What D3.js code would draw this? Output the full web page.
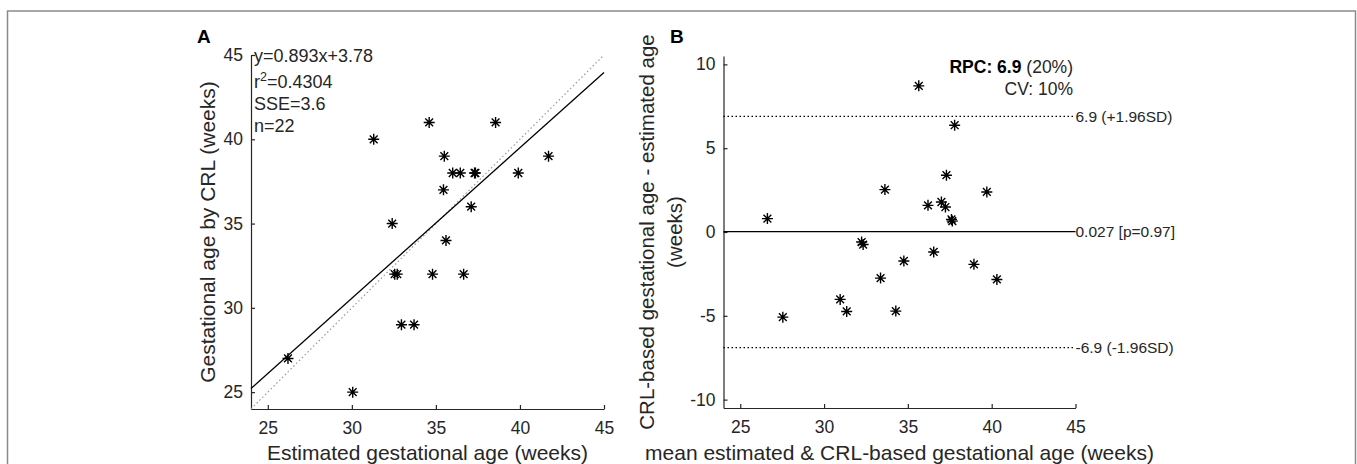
<html>
<head>
<meta charset="utf-8">
<script src="https://d3js.org/d3.v7.min.js"></script>
<style>
body { margin: 0; background: white; }
text { font-family: "Liberation Sans", Arial, sans-serif; fill: #262626; }
.axis path, .axis line { stroke: #262626; stroke-width: 1.2; }
.axis text { font-size: 17.5px; fill: #262626; }
</style>
</head>
<body>
<svg width="1357" height="464"></svg>
<script>
// panel A: estimated vs CRL-based gestational age (weeks)
var estAge = [26.2, 30.05, 31.3, 32.4, 32.55, 32.7, 32.95, 33.7, 34.8, 34.6, 35.6, 35.5, 35.45,
              36.0, 36.45, 37.3, 37.35, 37.1, 36.65, 38.55, 39.9, 41.7];
var crlAge = [27, 25, 40, 35, 32, 32, 29, 29, 32, 41, 34, 39, 37,
              38, 38, 38, 38, 36, 32, 41, 38, 39];
var fitSlope = 0.893, fitIntercept = 3.78;
var fitText = ["y=0.893x+3.78", "=0.4304", "SSE=3.6", "n=22"];

// panel B: Bland-Altman (mean vs difference)
var meanAge = [26.62, 27.54, 30.96, 31.35, 32.24, 32.33, 33.37, 33.63, 35.65, 37.79, 36.2,
               37.3, 37.0, 37.24, 37.6, 37.65, 39.71, 34.76, 36.54, 38.94, 40.31, 34.28];
var diffAge = [0.8, -5.08, -4.02, -4.74, -0.6, -0.75, -2.75, 2.53, 8.72, 6.37, 1.59,
               3.39, 1.79, 1.49, 0.75, 0.65, 2.39, -1.73, -1.19, -1.93, -2.83, -4.72];
var meanDiff = 0.027, upperLoA = 6.9, lowerLoA = -6.9;
var ageTicks = [25, 30, 35, 40, 45];
var diffTicks = [-10, -5, 0, 5, 10];

var svg = d3.select("svg");
var fmt = function(d) { return String(d); };

// figure frame
svg.append("path").attr("d", "M7.5,470V11H1355.5V470")
   .attr("fill", "none").attr("stroke", "#8a8a8a").attr("stroke-width", 1.5);

var star = "M-5.5,0H5.5M0,-5.5V5.5M-3.9,-3.9L3.9,3.9M-3.9,3.9L3.9,-3.9";

// ---------- panel A ----------
var xA = d3.scaleLinear().domain([24, 45]).range([251, 604]);
var yA = d3.scaleLinear().domain([24, 45]).range([409, 55]);

svg.append("g").attr("class", "axis").attr("transform", "translate(0,409)")
   .call(d3.axisBottom(xA).tickValues(ageTicks).tickFormat(fmt).tickSize(-4).tickSizeOuter(0).tickPadding(13));
svg.append("g").attr("class", "axis").attr("transform", "translate(251,0)")
   .call(d3.axisLeft(yA).tickValues(ageTicks).tickFormat(fmt).tickSize(-4).tickSizeOuter(0).tickPadding(8));

// identity line (dotted grey) and fit line
svg.append("line")
   .attr("x1", xA(24)).attr("y1", yA(24)).attr("x2", xA(45)).attr("y2", yA(45))
   .attr("stroke", "#9a9a9a").attr("stroke-width", 1.2).attr("stroke-dasharray", "1.5,2.5");
svg.append("line")
   .attr("x1", xA(24)).attr("y1", yA(fitSlope * 24 + fitIntercept))
   .attr("x2", xA(45)).attr("y2", yA(fitSlope * 45 + fitIntercept))
   .attr("stroke", "black").attr("stroke-width", 1.3);

svg.append("g").selectAll("path").data(estAge).enter().append("path")
   .attr("d", star)
   .attr("transform", function(d, i) { return "translate(" + xA(d) + "," + yA(crlAge[i]) + ")"; })
   .attr("stroke", "black").attr("stroke-width", 1.4).attr("fill", "none");

var ann = svg.append("g").style("font-size", "18px");
ann.append("text").attr("x", 254).attr("y", 62).text(fitText[0]);
var r2 = ann.append("text").attr("x", 254).attr("y", 88);
r2.append("tspan").text("r");
r2.append("tspan").attr("dy", -7).style("font-size", "12.5px").text("2");
r2.append("tspan").attr("dy", 7).text(fitText[1]);
ann.append("text").attr("x", 254).attr("y", 110).text(fitText[2]);
ann.append("text").attr("x", 254).attr("y", 132).text(fitText[3]);

svg.append("text").attr("x", 197).attr("y", 43)
   .style("font-size", "19px").style("font-weight", "bold").style("fill", "black").text("A");

svg.append("text").attr("x", 427.5).attr("y", 460).attr("text-anchor", "middle")
   .style("font-size", "21px").text("Estimated gestational age (weeks)");
svg.append("text").attr("transform", "translate(215,232) rotate(-90)").attr("text-anchor", "middle")
   .style("font-size", "21px").text("Gestational age by CRL (weeks)");

// ---------- panel B ----------
var xB = d3.scaleLinear().domain([24, 45]).range([723.5, 1075.5]);
var yB = d3.scaleLinear().domain([-10.5, 10.5]).range([408, 56]);

svg.append("g").attr("class", "axis").attr("transform", "translate(0,408)")
   .call(d3.axisBottom(xB).tickValues(ageTicks).tickFormat(fmt).tickSize(-4).tickSizeOuter(0).tickPadding(13));
svg.append("g").attr("class", "axis").attr("transform", "translate(723.5,0)")
   .call(d3.axisLeft(yB).tickValues(diffTicks).tickFormat(fmt).tickSize(-4).tickSizeOuter(0).tickPadding(8));
svg.selectAll(".axis text").attr("font-family", null);

var refLines = [
  {v: meanDiff, dash: null, label: "0.027 [p=0.97]"},
  {v: upperLoA, dash: "1.5,2.5", label: "6.9 (+1.96SD)"},
  {v: lowerLoA, dash: "1.5,2.5", label: "-6.9 (-1.96SD)"}
];
refLines.forEach(function(r) {
  svg.append("line")
     .attr("x1", xB(24)).attr("x2", xB(45)).attr("y1", yB(r.v)).attr("y2", yB(r.v))
     .attr("stroke", "black").attr("stroke-width", 1.3)
     .attr("stroke-dasharray", r.dash);
  svg.append("text").attr("x", xB(45)).attr("y", yB(r.v)).attr("dy", "0.36em")
     .style("font-size", "15.5px").text(r.label);
});

svg.append("g").selectAll("path").data(meanAge).enter().append("path")
   .attr("d", star)
   .attr("transform", function(d, i) { return "translate(" + xB(d) + "," + yB(diffAge[i]) + ")"; })
   .attr("stroke", "black").attr("stroke-width", 1.4).attr("fill", "none");

var rpc = svg.append("text").attr("x", 1073).attr("y", 73).attr("text-anchor", "end")
   .style("font-size", "17.5px");
rpc.append("tspan").style("font-weight", "bold").style("fill", "black").text("RPC: 6.9");
rpc.append("tspan").text(" (20%)");
svg.append("text").attr("x", 1073).attr("y", 95).attr("text-anchor", "end")
   .style("font-size", "17.5px").text("CV: 10%");

svg.append("text").attr("x", 670).attr("y", 43)
   .style("font-size", "19px").style("font-weight", "bold").style("fill", "black").text("B");

svg.append("text").attr("x", 899.5).attr("y", 460).attr("text-anchor", "middle")
   .style("font-size", "21px").text("mean estimated & CRL-based gestational age (weeks)");
var yl = svg.append("text").attr("transform", "translate(654,232) rotate(-90)")
   .attr("text-anchor", "middle").style("font-size", "20.5px");
yl.append("tspan").attr("x", 0).attr("y", 0).text("CRL-based gestational age - estimated age");
yl.append("tspan").attr("x", 0).attr("y", 28).text("(weeks)");
</script>
</body>
</html>
